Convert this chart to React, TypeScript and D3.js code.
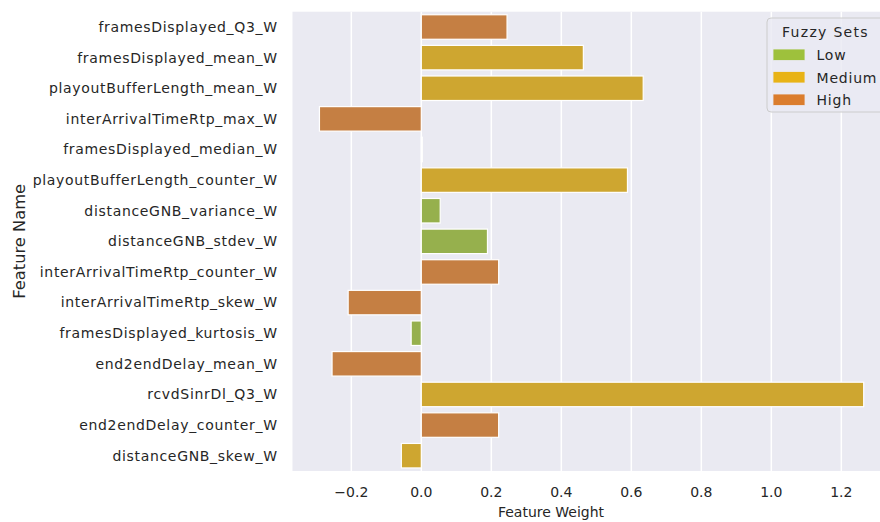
import React from 'react'
import * as d3 from 'd3'

// feature names, top to bottom
const features = [
  'framesDisplayed_Q3_W',
  'framesDisplayed_mean_W',
  'playoutBufferLength_mean_W',
  'interArrivalTimeRtp_max_W',
  'framesDisplayed_median_W',
  'playoutBufferLength_counter_W',
  'distanceGNB_variance_W',
  'distanceGNB_stdev_W',
  'interArrivalTimeRtp_counter_W',
  'interArrivalTimeRtp_skew_W',
  'framesDisplayed_kurtosis_W',
  'end2endDelay_mean_W',
  'rcvdSinrDl_Q3_W',
  'end2endDelay_counter_W',
  'distanceGNB_skew_W'
]
const weights = [0.245, 0.463, 0.634, -0.291, 0.003, 0.589, 0.054, 0.189, 0.221, -0.209, -0.029, -0.255, 1.264, 0.221, -0.057]
const fuzzySet = ['High', 'Medium', 'Medium', 'High', 'Low', 'Medium', 'Low', 'Low', 'High', 'High', 'Low', 'High', 'Medium', 'High', 'Medium']

const setNames = ['Low', 'Medium', 'High']
const setColors = ['#9ec13c', '#e8b316', '#db7d2d']
const xTicks = [-0.2, 0, 0.2, 0.4, 0.6, 0.8, 1.0, 1.2]

const W = 880
const H = 522
const left = 292.5
const top = 11.7
const bottom = 471

function desat (c: string) {
  const h = d3.hsl(c)
  h.s *= 0.75
  return h.formatHex()
}

export default function App () {
  const x = d3.scaleLinear().domain([-0.368, 1.343]).range([left, left + 1.711 * 350])
  const y = d3.scaleBand().domain(features).range([top, bottom]).paddingInner(0.2).paddingOuter(0.1)
  const color = d3.scaleOrdinal<string, string>().domain(setNames).range(setColors)
  const font = 'DejaVu Sans, sans-serif'
  const ink = '#262626'

  return (
    <svg width={W} height={H} style={{ position: 'absolute', left: 0, top: 0 }} fontFamily={font}>
      <rect x={left} y={top} width={W - left} height={bottom - top} fill='#eaeaf2' />
      {xTicks.map(t => (
        <line key={t} x1={x(t)} x2={x(t)} y1={top} y2={bottom} stroke='#fff' strokeWidth={1.5} />
      ))}
      {features.map((f, i) => {
        const v = weights[i]
        const x0 = x(Math.min(0, v))
        const x1 = x(Math.max(0, v))
        return (
          <rect key={f} x={x0} y={y(f)} width={Math.max(x1 - x0, 0.3)} height={y.bandwidth()}
            fill={desat(color(fuzzySet[i]))} stroke='#fff' strokeWidth={1.2} />
        )
      })}
      {features.map(f => (
        <text key={f} x={277.7} y={(y(f) ?? 0) + y.bandwidth() / 2} dy='0.35em' textAnchor='end'
          fontSize={14} letterSpacing={0.68} fill={ink}>{f}</text>
      ))}
      {xTicks.map(t => (
        <text key={t} x={x(t)} y={497} textAnchor='middle' fontSize={14} fill={ink}>
          {d3.format('.1f')(t).replace('-', '\u2212')}
        </text>
      ))}
      <text x={551} y={517} textAnchor='middle' fontSize={14} fill={ink}>Feature Weight</text>
      <text transform={`translate(25,${(top + bottom) / 2}) rotate(-90)`} textAnchor='middle'
        fontSize={16.3} fill={ink}>Feature Name</text>

      <g transform='translate(767,18)'>
        <rect x={0} y={0} width={125} height={94} rx={4} fill='#eaeaf2' fillOpacity={0.8} stroke='#cccccc' />
        <text x={15} y={19} fontSize={14} letterSpacing={1.3} fill={ink}>Fuzzy Sets</text>
        {setNames.map((s, i) => (
          <g key={s} transform={`translate(6,${31 + i * 22.5})`}>
            <rect x={0} y={0} width={32} height={11.5} fill={setColors[i]} stroke='#eaeaf2' strokeWidth={0.8} />
            <text x={43.5} y={11} fontSize={14} letterSpacing={0.8} fill={ink}>{s}</text>
          </g>
        ))}
      </g>
    </svg>
  )
}
